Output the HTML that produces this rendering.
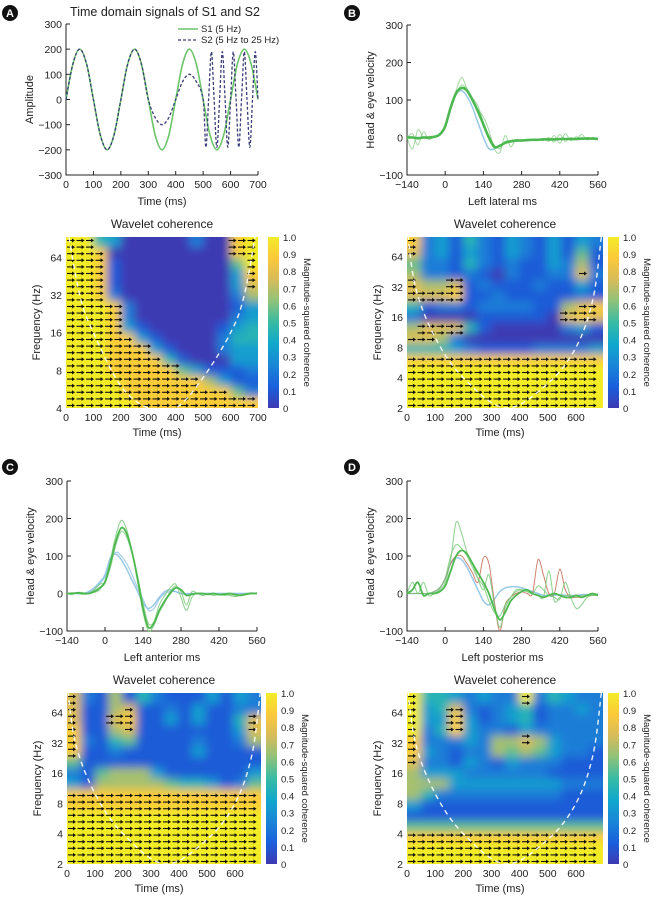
<!DOCTYPE html>
<html><head><meta charset="utf-8"><style>
html,body{margin:0;padding:0;background:#fff;}
svg{display:block;font-family:"Liberation Sans",Arial,sans-serif;}
</style></head><body>
<svg id="fig" width="656" height="902" viewBox="0 0 656 902" xmlns="http://www.w3.org/2000/svg">
<defs>
<filter id="blur" x="-5%" y="-5%" width="110%" height="110%"><feGaussianBlur stdDeviation="4.5"/></filter>
<linearGradient id="parula" x1="0" y1="1" x2="0" y2="0">
<stop offset="0" stop-color="#3e3ab2"/><stop offset="0.125" stop-color="#1a5fdc"/><stop offset="0.25" stop-color="#1a86d6"/><stop offset="0.375" stop-color="#10a8cc"/><stop offset="0.5" stop-color="#38bba4"/><stop offset="0.625" stop-color="#8ec27a"/><stop offset="0.75" stop-color="#d6bc5a"/><stop offset="0.875" stop-color="#fbc93a"/><stop offset="1" stop-color="#f2ec28"/>
</linearGradient>
</defs>
</svg>
<script>
// ---------- DATA ----------
const s1Times=[0,25,50,75,100,125,150,175,200,225,250,275,300,325,350,375,400,425,450,475,500,525,550,575,600,625,650,675,700];
const s1Values=[0,141,200,141,0,-141,-200,-141,0,141,200,141,0,-141,-200,-141,0,141,200,141,0,-141,-200,-141,0,141,200,141,0];
const s2Times=[0,25,50,75,100,125,150,175,200,225,250,275,300,325,350,375,400,425,450,475,500,510,520,530,540,550,560,570,580,590,600,610,620,630,640,650,660,670,680,690,700];
const s2Values=[0,141,200,141,0,-141,-200,-141,0,141,200,141,0,-71,-100,-71,0,71,100,71,0,-190,0,190,0,-190,0,190,0,-190,0,190,0,-190,0,190,0,-190,0,190,0];

const traceTimes=[-140,-120,-100,-80,-60,-40,-20,0,20,40,60,80,100,120,140,160,180,200,220,240,260,280,300,320,340,360,380,400,420,440,460,480,500,520,540,560];
const bGreen1=[0,0,-2,0,0,2,8,30,80,118,132,125,100,70,35,0,-25,-22,-14,-10,-8,-8,-7,-6,-6,-5,-5,-5,-4,-4,-4,-4,-3,-3,-3,-4];
const bGreen2=[0,10,-20,15,-5,3,10,35,85,125,160,130,100,75,55,20,-30,-40,5,-25,-5,-10,-6,-8,-5,-3,-10,5,-15,10,-8,2,-5,0,-3,-4];
const bGreen3=[0,-30,20,0,-3,0,6,28,78,115,140,128,105,85,40,5,-20,-30,-10,-12,-8,-6,-9,-6,-4,-8,0,-12,8,-10,0,-5,8,-6,0,-3];
const bBlue=[0,0,0,0,0,2,8,30,80,115,125,110,80,40,0,-30,-30,-20,-15,-12,-10,-8,-7,-6,-6,-5,-5,-5,-4,-4,-4,-4,-3,-3,-3,-3];
const cGreen1=[0,0,2,0,0,5,15,30,80,140,175,160,110,40,-40,-90,-80,-45,-20,0,15,10,-5,-2,0,0,-2,0,-3,-2,0,-3,-5,-2,0,0];
const cGreen2=[0,-3,3,2,0,3,10,35,90,155,195,170,110,30,-50,-100,-85,-50,-25,5,20,5,-30,5,0,-5,-2,-5,-3,0,-5,-8,-5,-3,0,2];
const cGreen3=[0,2,0,-2,0,10,25,30,70,130,165,150,105,45,-25,-80,-75,-30,-5,15,25,-10,-45,-10,0,-5,0,-2,-3,-5,-4,-8,-3,0,2,0];
const cBlue1=[0,0,0,0,5,15,30,50,95,105,90,65,35,5,-25,-40,-30,-10,5,10,5,0,-2,0,0,0,0,0,0,0,0,0,0,0,0,0];
const cBlue2=[0,0,0,0,3,10,25,45,85,110,100,80,50,15,-15,-45,-40,-15,0,5,5,0,0,0,0,0,0,0,0,0,0,0,0,0,0,0];
const dGreen1=[0,10,30,-5,0,0,5,20,60,100,115,105,80,55,30,0,-40,-70,-50,-20,-5,5,10,0,-5,-10,-5,0,-5,-10,-10,-5,-10,-5,0,-5];
const dGreen2=[0,30,0,30,-5,0,10,30,90,190,160,110,80,40,10,50,-30,-90,-40,-10,5,10,5,0,20,10,-5,-10,-15,30,-10,-40,-30,-10,-5,0];
const dGreen3=[0,0,0,0,0,5,15,40,100,130,120,100,70,40,20,-20,-50,-60,-30,-10,10,10,5,0,-5,-10,60,-20,-10,-5,-5,-10,-5,-5,-5,-5];
const dBlue=[0,0,0,0,0,5,15,40,80,95,90,70,40,10,-20,-30,-15,5,15,18,18,15,10,5,0,-5,-5,-5,-3,-5,-5,-5,-3,-3,-3,-3];
const dRed=[0,0,0,0,0,5,15,40,80,100,100,80,55,30,95,80,-20,-100,-30,-10,0,5,0,0,90,50,0,0,65,10,-10,-10,-10,-5,-5,-5];

// coherence grids: rows top(high freq)->bottom(low freq), digits = coherence level 0..9
const cohA=["99430000020089","99800000000089","99810000000059","99810000000038","99810000000037","99820000000026","99982000000013","99982000000023","99983100000134","99988310000244","99988831000233","99988884100033","99988888531112","99998888886311","99998888888852","99999888888888"];
const cohB=["82314213213132","72313213213151","52214212113261","62212102112272","76671211121131","77781121111121","41221222211678","20000111110787","67774100000231","77620000000000","44432111122223","88888888888888","99999999999999","99999999999999","99999999999999","99999999999999"];
const cohC=["72161421113132","71167112131122","71178113131147","81167111111137","82145111121126","81121111131111","51111111111111","21566631111113","31666665443125","88888888888888","88888888888888","99999999999999","99999999999999","99999999999999","99999999999999","99999999999999"];
const cohD=["94432322924322","93472123412232","93383123412222","92483221322222","82223266763222","83212265653221","72213213222111","63332222221111","66633333333222","64222222222111","31111111111111","11111111111111","55555555555555","88888888888888","99999999999999","99999999999999"];
const coiTimesA=[0,50,100,200,300,400,500,600,650,700];
const coiFreqA=[128,32,16,6,4,4,7,16,32,128];
const coiTimesB=[0,30,100,200,350,500,600,660,690];
const coiFreqB=[128,32,10,4,2,3.5,8,24,100];
const xTicksA=[0,100,200,300,400,500,600,700];
const xTicksH=[0,100,200,300,400,500,600];
const xTicksT=[-140,0,140,280,420,560];
const yTicksA=[-300,-200,-100,0,100,200,300];
const yTicksT=[-100,0,100,200,300];
const freqTicksA=[4,8,16,32,64];
const freqTicksB=[2,4,8,16,32,64];
const cbTicks=[0,0.1,0.2,0.3,0.4,0.5,0.6,0.7,0.8,0.9,1.0];

// ---------- HELPERS ----------
const NS="http://www.w3.org/2000/svg";
const svg=document.getElementById('fig');
function el(tag,attrs,parent){const e=document.createElementNS(NS,tag);for(const k in attrs)e.setAttribute(k,attrs[k]);(parent||svg).appendChild(e);return e;}
function txt(s,x,y,size,anchor,parent,rot,name){const t=el('text',{x:x,y:y,'font-size':size,'text-anchor':anchor||'middle',fill:'#222'},parent);
 if(rot)t.setAttribute('transform','rotate('+rot+' '+x+' '+y+')');t.textContent=s;
 
 return t;}
function smooth(p){let d='M'+p[0][0].toFixed(1)+','+p[0][1].toFixed(1);
 for(let i=0;i<p.length-1;i++){const p0=p[Math.max(0,i-1)],p1=p[i],p2=p[i+1],p3=p[Math.min(p.length-1,i+2)];
 const c1=[p1[0]+(p2[0]-p0[0])/6,p1[1]+(p2[1]-p0[1])/6],c2=[p2[0]-(p3[0]-p1[0])/6,p2[1]-(p3[1]-p1[1])/6];
 d+='C'+c1[0].toFixed(1)+','+c1[1].toFixed(1)+' '+c2[0].toFixed(1)+','+c2[1].toFixed(1)+' '+p2[0].toFixed(1)+','+p2[1].toFixed(1);}return d;}
const parStops=[[0,[62,58,178]],[0.125,[26,95,220]],[0.25,[26,134,214]],[0.375,[16,168,204]],[0.5,[56,187,164]],[0.625,[142,194,122]],[0.75,[214,188,90]],[0.875,[251,201,58]],[1,[242,236,40]]];
function parula(v){v=Math.max(0,Math.min(1,v));for(let i=0;i<parStops.length-1;i++){const a=parStops[i],b=parStops[i+1];if(v<=b[0]){const f=(v-a[0])/(b[0]-a[0]);return 'rgb('+a[1].map((c,j)=>Math.round(c+(b[1][j]-c)*f)).join(',')+')';}}return 'rgb(242,236,40)';}

function panelLabel(L,x,y){const g=el('g',{});
 el('circle',{cx:x,cy:y,r:8,fill:'#111'},g);const t=el('text',{x:x,y:y+4,'font-size':11,'font-weight':'bold','text-anchor':'middle',fill:'#fff'},g);t.textContent=L;}

function lineAxes(name,x0,x1,y0,y1,xmin,xmax,ymin,ymax,xt,yt,xtitle,ytitle){
 const g=el('g',{});
 const X=v=>x0+(v-xmin)/(xmax-xmin)*(x1-x0), Y=v=>y1-(v-ymin)/(ymax-ymin)*(y1-y0);
 el('path',{d:'M'+x0+','+y0+'V'+y1+'H'+x1,fill:'none',stroke:'#222','stroke-width':1},g);
 xt.forEach(v=>{el('line',{x1:X(v),x2:X(v),y1:y1,y2:y1-4,stroke:'#222'},g);txt(v<0?'\u2212'+(-v):String(v),X(v),y1+13,10.5,'middle',g,0,'x-tick-label');});
 yt.forEach(v=>{el('line',{x1:x0,x2:x0+4,y1:Y(v),y2:Y(v),stroke:'#222'},g);txt(v<0?'\u2212'+(-v):String(v),x0-4,Y(v)+4,10.5,'end',g,0,'y-tick-label');});
 txt(xtitle,(x0+x1)/2,y1+30,11,'middle',g,0,'x-axis-title');
 txt(ytitle,x0-33,(y0+y1)/2,11,'middle',g,-90,'y-axis-title');
 return {X,Y,g};}
function drawTrace(ax,times,vals,color,w,op,name,dash){
 const p=el('path',{d:smooth(times.map((t,i)=>[ax.X(t),ax.Y(vals[i])])),fill:'none',stroke:color,'stroke-width':w,'stroke-opacity':op},ax.g);
 if(dash)p.setAttribute('stroke-dasharray',dash);
 
 }

function heatmap(id,grid,x0,x1,y0,y1,tmax,fmin,fmax,fticks,xticks,coiT,coiF){
 const g=el('g',{});
 const cp=el('clipPath',{id:'clip'+id},g);el('rect',{x:x0,y:y0,width:x1-x0,height:y1-y0},cp);
 const rows=grid.length,cols=grid[0].length,cw=(x1-x0)/cols,rh=(y1-y0)/rows;
 const inner=el('g',{'clip-path':'url(#clip'+id+')'},g);
 const bg=el('g',{filter:'url(#blur)'},inner);
 for(let r=0;r<rows;r++)for(let c=0;c<cols;c++){
  const v=+grid[r][c]/9;let x=x0+c*cw,y=y0+r*rh,w=cw+0.6,h=rh+0.6;
  if(c===0){x-=12;w+=12;} if(c===cols-1)w+=12; if(r===0){y-=12;h+=12;} if(r===rows-1)h+=12;
  const rc=el('rect',{x:x,y:y,width:w,height:h,fill:parula(v)},bg);
  
  }
 // phase arrows
 const ag=el('g',{stroke:'#111','stroke-width':1.1,fill:'#111'},inner);
 for(let y=y0+3.5;y<y1;y+=6.6)for(let x=x0+5;x<x1-2;x+=9.5){
  const r=Math.min(rows-1,Math.floor((y-y0)/rh)),c=Math.min(cols-1,Math.floor((x-x0)/cw));
  if(+grid[r][c]>=7){el('line',{x1:x-4,y1:y,x2:x+2,y2:y},ag);el('path',{d:'M'+(x+4)+','+y+'L'+(x+1)+','+(y-2)+'L'+(x+1)+','+(y+2)+'Z',stroke:'none'},ag);}}
 // cone of influence
 const X=t=>x0+t/tmax*(x1-x0), F=f=>y1-(Math.log2(f)-Math.log2(fmin))/(Math.log2(fmax)-Math.log2(fmin))*(y1-y0);
 const coi=el('path',{d:smooth(coiT.map((t,i)=>[X(t),F(coiF[i])])),fill:'none',stroke:'#fff','stroke-width':1.4,'stroke-dasharray':'5 4','stroke-opacity':0.9},inner);
 
 
 fticks.forEach(f=>txt(String(f),x0-4,F(f)+4,10.5,'end',g,0,'frequency-tick-label'));
 xticks.forEach(t=>txt(String(t),X(t),y1+13,10.5,'middle',g,0,'time-tick-label'));
 txt('Time (ms)',(x0+x1)/2-5,y1+28,11,'middle',g,0,'x-axis-title');
 txt('Frequency (Hz)',x0-26,(y0+y1)/2,11,'middle',g,-90,'y-axis-title');
 txt('Wavelet coherence',(x0+x1)/2,y0-9,12,'middle',g,0,'heatmap-title');
 // colorbar
 const cx=x1+(id==='a'?10:5);
 const cb=el('rect',{x:cx,y:y0,width:11,height:y1-y0,fill:'url(#parula)'},g);
 
 
 cbTicks.forEach(v=>txt(v===1?'1.0':(v===0?'0':v.toFixed(1)),cx+15,y1-v*(y1-y0)+4,9.5,'start',g,0,'colorbar-tick-label'));
 txt('Magnitude-squared coherence',cx+36,(y0+y1)/2,9.5,'middle',g,90,'colorbar-title');
}

// ---------- PANEL A ----------
panelLabel('A',10,13);
txt('Time domain signals of S1 and S2',165,16,12.5,'middle',null,0,'chart-title');
const axA=lineAxes('signal-chart-a',66,258,24,175,0,700,-300,300,xTicksA,yTicksA,'Time (ms)','Amplitude');
drawTrace(axA,s1Times,s1Values,'#6cc46a',1.6,1,'s1-line');
drawTrace(axA,s2Times,s2Values,'#3a3d78',1.3,1,'s2-line','3 2');
const lg=el('g',{});
el('line',{x1:178,x2:198,y1:29,y2:29,stroke:'#6cc46a','stroke-width':1.6},lg);
txt('S1 (5 Hz)',201,32,9.5,'start',lg,0,'legend-entry-s1');
el('line',{x1:178,x2:198,y1:40,y2:40,stroke:'#3a3d78','stroke-width':1.3,'stroke-dasharray':'3 2'},lg);
txt('S2 (5 Hz to 25 Hz)',201,43,9.5,'start',lg,0,'legend-entry-s2');
heatmap('a',cohA,66,258,237,408,700,4,93,freqTicksA,xTicksA,coiTimesA,coiFreqA);

// ---------- PANEL B ----------
panelLabel('B',352,13);
const axB=lineAxes('velocity-chart-b',407,598,25,175,-140,560,-100,300,xTicksT,yTicksT,'Left lateral ms','Head & eye velocity');
drawTrace(axB,traceTimes,bBlue,'#8ec3e6',1.5,0.9,'trace-blue');
drawTrace(axB,traceTimes,bGreen2,'#7bc97b',1,0.7,'trace-green');
drawTrace(axB,traceTimes,bGreen3,'#7bc97b',1,0.7,'trace-green');
drawTrace(axB,traceTimes,bGreen1,'#4cb84f',2.6,1,'trace-green-main');
heatmap('b',cohB,407,603,237,408,696,2,100,freqTicksB,xTicksH,coiTimesB,coiFreqB);

// ---------- PANEL C ----------
panelLabel('C',10,467);
const axC=lineAxes('velocity-chart-c',67,257,481,631,-140,560,-100,300,xTicksT,yTicksT,'Left anterior ms','Head & eye velocity');
drawTrace(axC,traceTimes,cBlue1,'#8ec3e6',1.5,0.9,'trace-blue');
drawTrace(axC,traceTimes,cBlue2,'#8ec3e6',1.2,0.8,'trace-blue');
drawTrace(axC,traceTimes,cGreen2,'#7bc97b',1.1,0.8,'trace-green');
drawTrace(axC,traceTimes,cGreen3,'#7bc97b',1.1,0.8,'trace-green');
drawTrace(axC,traceTimes,cGreen1,'#4cb84f',1.8,1,'trace-green-main');
heatmap('c',cohC,67,261,693,864,693,2,100,freqTicksB,xTicksH,coiTimesB,coiFreqB);

// ---------- PANEL D ----------
panelLabel('D',352,467);
const axD=lineAxes('velocity-chart-d',407,598,481,631,-140,560,-100,300,xTicksT,yTicksT,'Left posterior ms','Head & eye velocity');
drawTrace(axD,traceTimes,dBlue,'#8ec3e6',1.5,0.9,'trace-blue');
drawTrace(axD,traceTimes,dRed,'#c0644c',1,0.8,'trace-red');
drawTrace(axD,traceTimes,dGreen2,'#7bc97b',1.1,0.8,'trace-green');
drawTrace(axD,traceTimes,dGreen3,'#7bc97b',1.1,0.8,'trace-green');
drawTrace(axD,traceTimes,dGreen1,'#4cb84f',1.8,1,'trace-green-main');
heatmap('d',cohD,407,603,693,864,696,2,100,freqTicksB,xTicksH,coiTimesB,coiFreqB);
</script>
</body></html>
